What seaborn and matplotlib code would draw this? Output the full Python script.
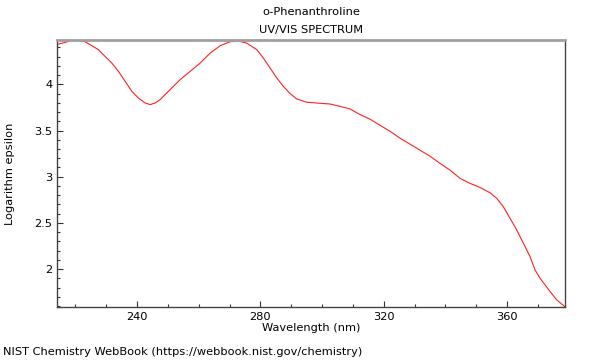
import numpy as np
import pandas as pd
import seaborn as sns
import matplotlib
matplotlib.use("Agg")
import matplotlib.pyplot as plt
from matplotlib.ticker import MultipleLocator

comprimento = [214.05, 216.65, 218.82, 220.96, 223.14, 225.31, 227.45, 229.62,
               231.79, 233.94, 236.11, 238.28, 240.42, 242.59, 244.22, 245.84,
               247.46, 250.70, 253.95, 257.19, 260.43, 263.68, 266.92, 270.16,
               272.85, 275.58, 278.82, 280.96, 283.14, 285.31, 287.45, 289.62,
               291.79, 295.04, 298.28, 302.59, 305.84, 309.08, 312.32, 315.57,
               318.81, 322.05, 325.30, 328.54, 331.78, 335.03, 338.27, 341.51,
               344.76, 348.00, 351.24, 354.49, 356.66, 358.80, 360.97, 363.15,
               365.29, 367.46, 369.08, 370.70, 373.95, 376.12, 378.80]
log_epsilon = [4.432, 4.454, 4.475, 4.478, 4.461, 4.418, 4.375, 4.302,
               4.230, 4.140, 4.032, 3.924, 3.852, 3.798, 3.781, 3.798,
               3.835, 3.943, 4.051, 4.140, 4.230, 4.338, 4.418, 4.461,
               4.468, 4.446, 4.375, 4.284, 4.176, 4.068, 3.978, 3.900,
               3.841, 3.806, 3.798, 3.787, 3.762, 3.733, 3.673, 3.622,
               3.557, 3.492, 3.417, 3.352, 3.287, 3.222, 3.144, 3.071,
               2.982, 2.928, 2.884, 2.826, 2.766, 2.675, 2.550, 2.423,
               2.280, 2.135, 1.991, 1.902, 1.757, 1.667, 1.592]

tabela = pd.DataFrame({"Wavelength (nm)": comprimento, "Logarithm epsilon": log_epsilon})

sns.set_style("white")
plt.rcParams['font.family'] = ['DejaVu Sans']
plt.rcParams['text.color'] = 'black'
plt.rcParams['axes.labelcolor'] = 'black'
tamanho = 8.2

fig = plt.figure(figsize=(6, 3.6), dpi=100)
ax = fig.add_axes([57/600, 1-307/360, (565-57)/600, (307-40)/360])

sns.lineplot(data=tabela, x="Wavelength (nm)", y="Logarithm epsilon", ax=ax,
             color="#ff2020", linewidth=0.8)

ax.set_xlim(214.0, 378.8)
ax.set_ylim(1.59, 4.48)
ax.xaxis.set_major_locator(MultipleLocator(40))
ax.xaxis.set_minor_locator(MultipleLocator(10))
ax.yaxis.set_major_locator(MultipleLocator(0.5))
ax.yaxis.set_minor_locator(MultipleLocator(0.1))
ax.yaxis.set_major_formatter(plt.FuncFormatter(lambda v, p: f"{v:g}"))
ax.tick_params(which="both", direction="in", colors="#333333", labelcolor="black",
               labelsize=tamanho, top=False, right=False, left=True, bottom=True)
ax.tick_params(which="major", length=4, width=0.8)
ax.tick_params(which="minor", length=2.5, width=0.8)

for lado in ["left", "bottom", "right"]:
    ax.spines[lado].set_color("#444444")
    ax.spines[lado].set_linewidth(1)
ax.spines["top"].set_color("#a0a0a0")
ax.spines["top"].set_linewidth(2)

ax.set_xlabel("Wavelength (nm)", fontsize=tamanho, labelpad=1, color="black")
ax.set_ylabel("")
fig.text(10/600, 1-174/360, "Logarithm epsilon", rotation=90, ha="center", va="center",
         fontsize=tamanho, color="black")

fig.text(311/600, 1-12/360, "o-Phenanthroline", ha="center", va="center",
         fontsize=tamanho, color="black")
fig.text(311/600, 1-30/360, "UV/VIS SPECTRUM", ha="center", va="center",
         fontsize=tamanho, color="black")
fig.text(3/600, 1-352/360, "NIST Chemistry WebBook (https://webbook.nist.gov/chemistry)",
         ha="left", va="center", fontsize=tamanho, color="black")

fig.savefig("out.png", dpi=100)
